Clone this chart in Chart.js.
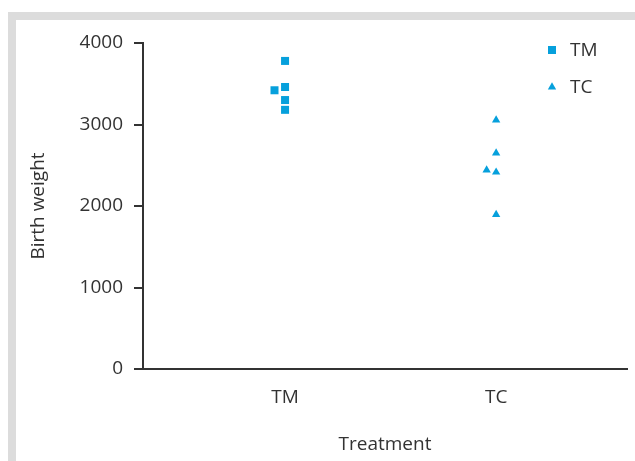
<!DOCTYPE html>
<html>
<head>
<meta charset="utf-8">
<script src="https://cdn.jsdelivr.net/npm/chart.js@4.4.1/dist/chart.umd.min.js"></script>
<style>
    body { margin: 0; background: #fff; }
    #wrap { position: relative; width: 635px; height: 461px; overflow: hidden; }
    #frame {
        position: absolute; left: 8px; top: 12px; right: 0; bottom: 0;
        border-top: 8px solid #dcdcdc; border-left: 8px solid #dcdcdc;
    }
    #chart { position: absolute; left: 0; top: 0; }
</style>
</head>
<body>
<div id="wrap">
    <div id="frame"></div>
    <canvas id="chart" width="635" height="461"></canvas>
</div>
<script>
// categories on the x axis (placed at 1 and 2 on a linear scale)
var categories = ['TM', 'TC'];
var categoryPos = [1, 2];

// birth weight per group
var tmWeights = [3780, 3460, 3420, 3300, 3180];
var tmPositions = [1, 1, 0.95, 1, 1];
var tcWeights = [3055, 2650, 2440, 2415, 1895];
var tcPositions = [2, 2, 1.955, 2, 2];

var yTicks = [0, 1000, 2000, 3000, 4000];

var blue = '#06a0dc';
var ink = '#333333';
var font = { family: "'Open Sans', sans-serif", size: 19 };

function toPoints(xs, ys) {
    return ys.map(function (v, i) { return { x: xs[i], y: v }; });
}

// small legend drawn inside the plot, top right
var cornerLegend = {
    id: 'cornerLegend',
    afterDraw: function (chart) {
        var ctx = chart.ctx;
        var rows = [50, 87];
        ctx.save();
        chart.data.datasets.forEach(function (ds, i) {
            ctx.fillStyle = ds.backgroundColor;
            Chart.helpers.drawPoint(ctx, {
                pointStyle: ds.pointStyle,
                radius: ds.pointRadius,
                rotation: 0,
                borderWidth: 0
            }, 552, rows[i]);
            ctx.fillStyle = ink;
            ctx.font = font.size + 'px ' + font.family;
            ctx.textBaseline = 'middle';
            ctx.textAlign = 'left';
            ctx.fillText(ds.label, 570, rows[i] + 1);
        });
        ctx.restore();
    }
};

var chart = new Chart(
    document.getElementById('chart'),
    {
        type: 'scatter',
        data: {
            datasets: [
                {
                    label: categories[0],
                    data: toPoints(tmPositions, tmWeights),
                    pointStyle: 'rect',
                    pointRadius: 5.66,
                    backgroundColor: blue,
                    borderWidth: 0
                },
                {
                    label: categories[1],
                    data: toPoints(tcPositions, tcWeights),
                    pointStyle: 'triangle',
                    pointRadius: 4.8,
                    backgroundColor: blue,
                    borderWidth: 0
                }]
        },
        options: {
            responsive: false,
            animation: false,
            devicePixelRatio: 1,
            layout: { padding: { left: 16, top: 43, right: 8, bottom: 0 } },
            plugins: {
                legend: { display: false },
                tooltip: { enabled: false }
            },
            scales: {
                x: {
                    type: 'linear',
                    min: 0.327,
                    max: 2.62,
                    afterBuildTicks: function (s) {
                        s.ticks = categoryPos.map(function (v) { return { value: v }; });
                    },
                    afterFit: function (s) { s.height = 92; },
                    ticks: {
                        color: ink,
                        font: font,
                        padding: 9,
                        callback: function (v) {
                            var i = categoryPos.indexOf(v);
                            return i >= 0 ? categories[i] : '';
                        }
                    },
                    grid: { display: false },
                    border: { display: true, color: ink, width: 2 },
                    title: {
                        display: true,
                        text: 'Treatment',
                        color: ink,
                        font: font,
                        padding: { top: 0, bottom: 5 }
                    }
                },
                y: {
                    min: 0,
                    max: 4000,
                    afterBuildTicks: function (s) {
                        s.ticks = yTicks.map(function (v) { return { value: v }; });
                    },
                    afterFit: function (s) { s.width = 127; },
                    ticks: {
                        color: ink,
                        font: font,
                        padding: 11,
                        callback: function (v) { return String(v); }
                    },
                    grid: {
                        drawOnChartArea: false,
                        drawTicks: true,
                        tickLength: 9,
                        color: ink,
                        lineWidth: 2
                    },
                    border: { display: true, color: ink, width: 2 },
                    title: {
                        display: true,
                        text: 'Birth weight',
                        color: ink,
                        font: font,
                        padding: { top: 11, bottom: 0 }
                    }
                }
            }
        },
        plugins: [cornerLegend]
    }
);
</script>
</body>
</html>
